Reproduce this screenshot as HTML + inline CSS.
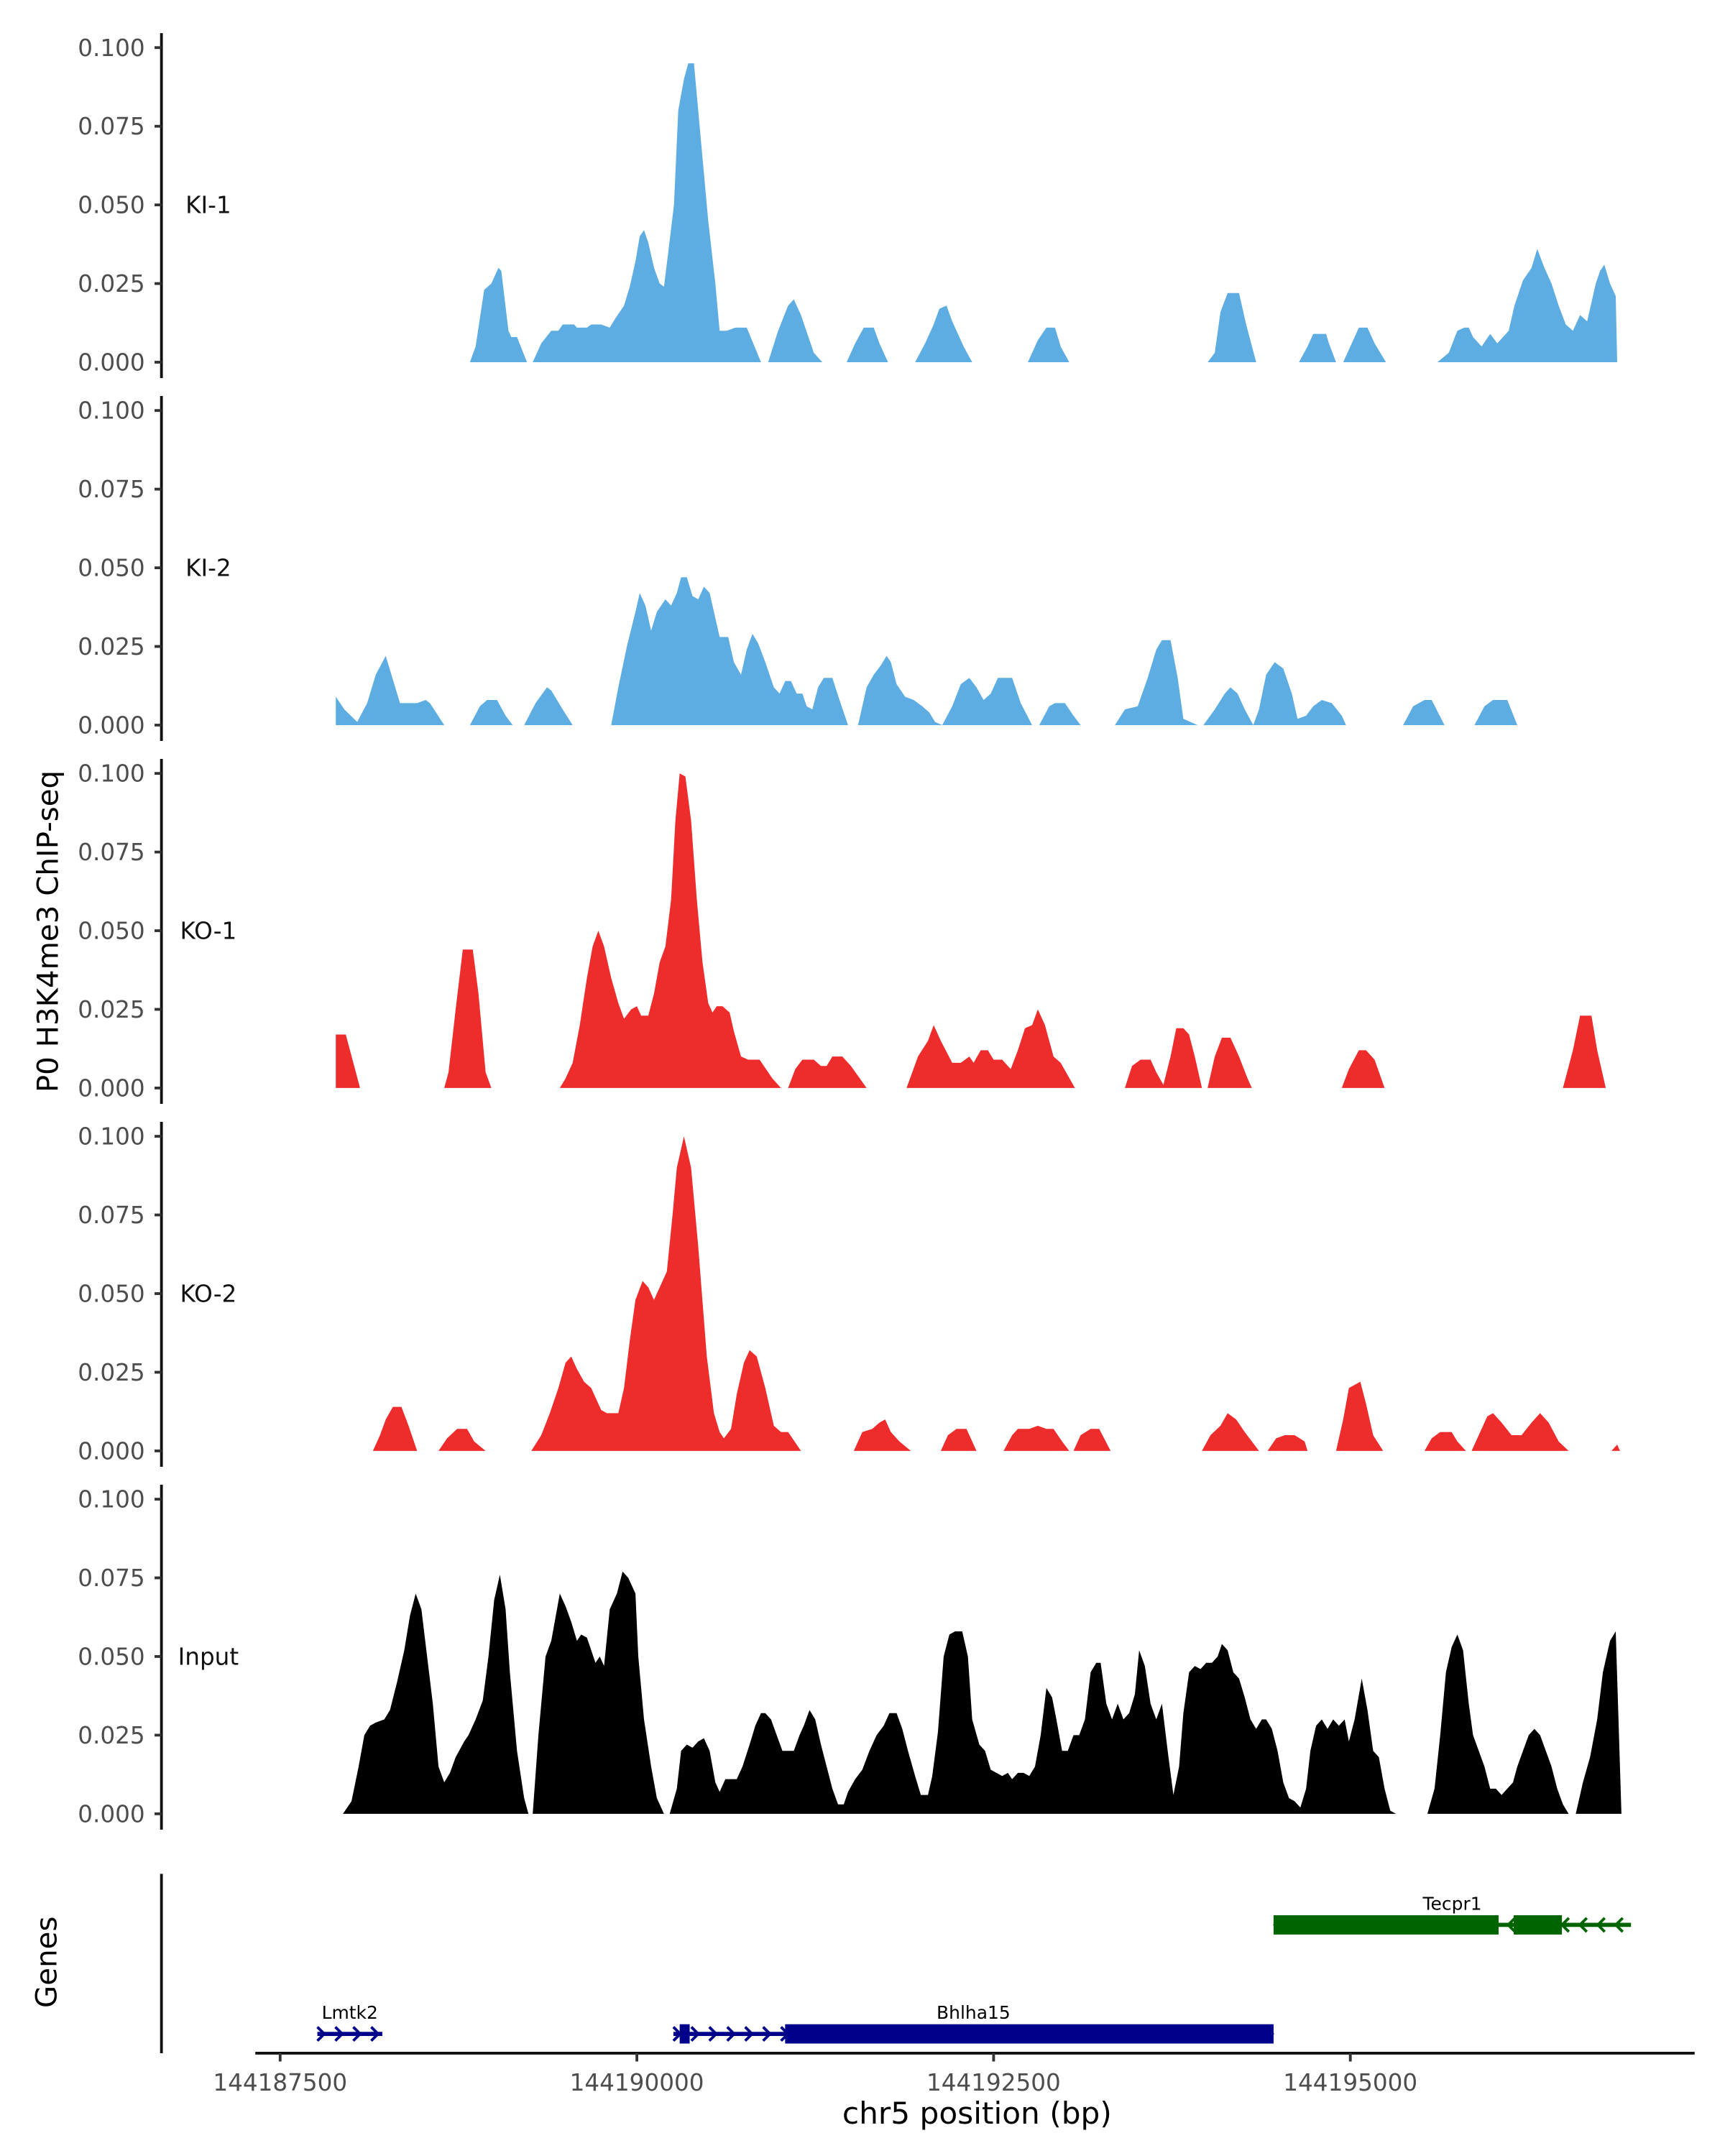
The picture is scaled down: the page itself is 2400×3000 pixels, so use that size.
<!DOCTYPE html>
<html><head><meta charset="utf-8"><style>
html,body{margin:0;padding:0;background:#fff;}
svg{display:block;font-family:"DejaVu Sans","Liberation Sans",sans-serif;}
</style></head><body>
<svg id="chart" width="2400" height="3000" viewBox="0 0 1250 1562.5" xmlns="http://www.w3.org/2000/svg">
<text x="0" y="0" transform="translate(42,675) rotate(-90)" text-anchor="middle" font-size="21" fill="#000">P0 H3K4me3 ChIP-seq</text>
<text x="0" y="0" transform="translate(41,1422) rotate(-90)" text-anchor="middle" font-size="21" fill="#000">Genes</text>
<text x="708" y="1539" text-anchor="middle" font-size="22" fill="#000">chr5 position (bp)</text>
<g id="tracks"></g>
<g id="genes"></g>
<g id="xaxis"></g>
</svg>
<script>
const regionStart = 144187500;
const xTicks = [144187500, 144190000, 144192500, 144195000];
const yTicks = [0, 0.025, 0.05, 0.075, 0.1];
const yTickLabels = ["0.000", "0.025", "0.050", "0.075", "0.100"];
const trackNames = ["KI-1", "KI-2", "KO-1", "KO-2", "Input"];
const trackColors = ["#5dade2", "#5dade2", "#ee2c2c", "#ee2c2c", "#000000"];

const ki1Pos = [1330,1370,1430,1480,1530,1550,1600,1620,1660,1730,null,1770,1830,1900,1950,1980,2060,2080,2150,2180,2250,2310,2350,2410,2450,2490,2520,2550,2580,2620,2660,2690,2720,2760,2790,2830,2860,2900,2950,3000,3050,3080,3130,3190,3270,3370,null,3420,3490,3560,3600,3650,3740,3800,null,3970,4030,4090,4160,4200,4260,null,4450,4520,4580,4620,4670,4710,4790,4850,null,5240,5310,5370,5430,5470,5530,null,6500,6550,6590,6640,6720,6770,6840,null,7140,7200,7240,7330,7350,7400,null,7450,7510,7560,7620,7670,7750,null,8110,8190,8250,8300,8330,8360,8420,8480,8530,8610,8650,8710,8770,8810,8860,8910,8960,9010,9060,9110,9160,9220,9250,9280,9320,9360,9370];
const ki1Val = [0,.005,.023,.025,.03,.029,.01,.008,.008,0,null,0,.006,.01,.01,.012,.012,.011,.011,.012,.012,.011,.014,.018,.024,.032,.04,.042,.038,.03,.025,.024,.035,.05,.08,.09,.095,.095,.07,.045,.025,.01,.01,.011,.011,0,null,0,.01,.018,.02,.015,.003,0,null,0,.006,.011,.011,.006,0,null,0,.006,.012,.017,.018,.013,.005,0,null,0,.007,.011,.011,.005,0,null,0,.003,.016,.022,.022,.012,0,null,0,.005,.009,.009,.006,0,null,0,.006,.011,.011,.006,0,null,0,.003,.01,.011,.011,.008,.005,.009,.006,.01,.018,.026,.03,.036,.03,.025,.018,.012,.01,.015,.013,.025,.029,.031,.025,.021,0];

const ki2Pos = [390,390,450,540,610,670,740,780,840,900,960,1020,1050,1150,null,1330,1400,1450,1520,1580,1630,null,1710,1790,1870,1900,1980,2050,null,2320,2370,2430,2490,2520,2560,2600,2640,2700,2740,2780,2810,2850,2890,2930,2970,3010,3050,3080,3140,3180,3230,3270,3310,3350,3400,3460,3500,3540,3580,3620,3660,3690,3730,3770,3810,3870,3920,3980,null,4050,4110,4160,4210,4250,4280,4320,4380,4440,4500,4550,4590,4640,4710,4770,4830,4880,4930,4980,5030,5130,5190,5270,null,5320,5390,5430,5500,5560,5610,null,5850,5920,6010,6080,6140,6180,6240,6290,6330,6430,null,6470,6550,6620,6660,6710,6760,6820,6860,6910,6970,7030,7090,7130,7190,7240,7300,7370,7440,7470,null,7870,7940,8020,8070,8160,null,8370,8440,8500,8600,8670];
const ki2Val = [0,.009,.005,.001,.007,.016,.022,.016,.007,.007,.007,.008,.007,0,null,0,.006,.008,.008,.003,0,null,0,.007,.012,.011,.005,0,null,0,.012,.025,.036,.042,.038,.03,.036,.04,.038,.042,.047,.047,.041,.04,.044,.042,.034,.028,.028,.02,.016,.024,.029,.026,.02,.012,.01,.014,.014,.01,.01,.006,.005,.012,.015,.015,.008,0,null,0,.012,.016,.019,.022,.02,.013,.009,.008,.006,.004,.001,0,.006,.013,.015,.012,.008,.01,.015,.015,.007,0,null,0,.006,.007,.007,.003,0,null,0,.005,.006,.015,.024,.027,.027,.015,.002,0,null,0,.005,.01,.012,.01,.005,0,.005,.016,.02,.018,.01,.002,.003,.006,.008,.007,.003,0,null,0,.006,.008,.008,0,null,0,.006,.008,.008,0];

const ko1Pos = [390,390,460,560,null,1150,1180,1230,1280,1350,1390,1440,1480,null,1960,2000,2050,2100,2150,2190,2230,2270,2320,2370,2410,2460,2500,2530,2580,2620,2660,2700,2740,2770,2800,2840,2880,2920,2960,3000,3030,3060,3100,3150,3180,3230,3280,3360,3450,3510,null,3560,3610,3660,3740,3790,3830,3870,3940,4000,4110,null,4390,4470,4540,4580,4630,4710,4770,4830,4860,4910,4960,5000,5060,5120,5170,5220,5270,5310,5360,5420,5470,5570,null,5920,5970,6030,6100,6140,6190,6240,6280,6330,6370,6410,6460,null,6500,6550,6600,6660,6720,6780,6810,null,7440,7490,7560,7610,7670,7740,null,8990,9060,9110,9190,9230,9290];
const ko1Val = [0,.017,.017,0,null,0,.005,.025,.044,.044,.03,.005,0,null,0,.003,.008,.02,.035,.045,.05,.045,.035,.027,.022,.025,.026,.023,.023,.03,.04,.045,.06,.085,.1,.099,.085,.06,.04,.027,.024,.026,.026,.024,.018,.01,.009,.009,.003,0,null,0,.006,.009,.009,.007,.007,.01,.01,.007,0,null,0,.01,.015,.02,.015,.008,.008,.01,.008,.012,.012,.009,.009,.006,.012,.019,.02,.025,.02,.01,.008,0,null,0,.007,.009,.009,.005,.001,.01,.019,.019,.017,.01,0,null,0,.01,.016,.016,.01,.003,0,null,0,.006,.012,.012,.009,0,null,0,.012,.023,.023,.012,0];

const ko2Pos = [650,700,740,790,850,900,960,null,1110,1170,1240,1310,1360,1440,null,1760,1830,1890,1950,2000,2040,2080,2130,2180,2210,2250,2290,2370,2410,2450,2490,2540,2580,2620,2670,2710,2750,2780,2830,2880,2930,2990,3040,3080,3110,3160,3200,3250,3290,3340,3370,3400,3460,3510,3560,3650,null,4020,4080,4150,4200,4240,4280,4340,4420,null,4630,4680,4740,4810,4840,4880,null,5070,5130,5170,5250,5310,5370,5420,5480,5530,null,5560,5610,5680,5740,5820,null,6460,6520,6590,6640,6700,6760,6860,null,6920,6980,7040,7110,7180,7200,null,7400,7450,7490,7570,7610,7660,7730,null,8020,8070,8130,8210,8250,8310,null,8350,8400,8460,8500,8560,8630,8700,8770,8830,8890,8960,9030,null,9330,9370,9390];
const ko2Val = [0,.005,.01,.014,.014,.008,0,null,0,.004,.007,.007,.003,0,null,0,.005,.012,.02,.028,.03,.026,.022,.02,.017,.013,.012,.012,.02,.035,.048,.054,.052,.048,.053,.057,.075,.09,.1,.09,.065,.03,.012,.006,.004,.007,.018,.028,.032,.03,.025,.02,.008,.006,.006,0,null,0,.006,.007,.009,.01,.006,.003,0,null,0,.005,.007,.007,.004,0,null,0,.005,.007,.007,.008,.007,.007,.003,0,null,0,.005,.007,.007,0,null,0,.005,.008,.012,.01,.006,0,null,0,.004,.005,.005,.003,0,null,0,.01,.02,.022,.015,.005,0,null,0,.004,.006,.006,.003,0,null,0,.005,.011,.012,.009,.005,.005,.009,.012,.009,.003,0,null,0,.002,0];

const inputPos = [440,500,550,590,630,670,730,770,820,870,910,950,990,1030,1070,1110,1150,1190,1230,1290,1320,1370,1420,1460,1500,1540,1580,1610,1660,1710,1740,null,1770,1810,1860,1900,1960,2000,2040,2080,2110,2150,2180,2210,2240,2270,2310,2360,2400,2440,2490,2510,2550,2600,2640,2690,null,2730,2780,2810,2850,2890,2930,2970,3010,3050,3080,3120,3160,3200,3240,3290,3330,3370,3400,3440,3480,3520,3560,3600,3640,3670,3710,3750,3790,3830,3870,3910,3950,3980,4030,4080,4130,4180,4230,4270,4320,4360,4400,4450,4490,4540,4570,4610,4650,4690,4730,4780,4820,4850,4900,4940,4980,5020,5060,5100,5130,5170,5210,5250,5290,5330,5370,5410,5440,5480,5520,5560,5600,5640,5680,5720,5750,5790,5830,5870,5910,5950,5990,6020,6060,6100,6140,6180,6220,6260,6300,6330,6370,6410,6450,6490,6530,6570,6600,6640,6680,6720,6760,6800,6840,6880,6910,6950,6990,7030,7070,7110,7150,7190,7220,7260,7300,7340,7380,7420,7460,7490,7530,7580,7620,7660,7700,7740,7780,7820,null,8040,8090,8130,8170,8210,8250,8290,8330,8360,8400,8440,8480,8520,8560,8600,8640,8670,8710,8750,8790,8830,8870,8910,8950,8990,9030,null,9080,9130,9180,9230,9270,9320,9360,9400];
const inputVal = [0,.004,.015,.025,.028,.029,.03,.033,.042,.052,.063,.07,.065,.05,.035,.015,.01,.013,.018,.023,.025,.03,.036,.05,.068,.076,.065,.045,.02,.005,0,null,0,.025,.05,.055,.07,.066,.061,.055,.057,.056,.052,.048,.05,.047,.065,.07,.077,.075,.07,.05,.03,.015,.005,0,null,0,.008,.02,.022,.021,.023,.024,.02,.01,.007,.011,.011,.011,.015,.022,.028,.032,.032,.03,.025,.02,.02,.02,.025,.028,.033,.03,.022,.015,.008,.003,.003,.007,.011,.014,.02,.025,.028,.032,.032,.027,.02,.012,.006,.006,.012,.026,.05,.057,.058,.058,.05,.03,.022,.02,.014,.013,.012,.013,.011,.013,.013,.012,.015,.025,.04,.037,.03,.02,.02,.025,.025,.03,.045,.048,.048,.035,.03,.035,.03,.032,.038,.052,.047,.035,.03,.035,.02,.006,.015,.032,.045,.047,.046,.048,.048,.05,.054,.052,.045,.043,.037,.03,.027,.03,.03,.027,.02,.01,.005,.004,.002,.008,.02,.028,.03,.027,.03,.028,.03,.023,.03,.043,.033,.02,.018,.008,.001,0,null,0,.008,.025,.045,.053,.057,.052,.035,.025,.02,.015,.008,.008,.006,.008,.01,.015,.02,.025,.027,.025,.02,.015,.008,.003,0,null,0,.01,.018,.03,.045,.055,.058,0];

const trackPos = [ki1Pos, ki2Pos, ko1Pos, ko2Pos, inputPos];
const trackVal = [ki1Val, ki2Val, ko1Val, ko2Val, inputVal];

const geneNames = ["Lmtk2", "Bhlha15", "Tecpr1"];
const geneStart = [144187761, 144190256, 144194462];
const geneEnd = [144188216, 144194462, 144196967];
const geneStrand = ["+", "+", "-"];
const geneRow = [1, 1, 0];
const exonGene = [1, 1, 2, 2];
const exonStart = [144190300, 144191039, 144194462, 144196145];
const exonEnd = [144190370, 144194462, 144196039, 144196483];

const NS = "http://www.w3.org/2000/svg";
const X0 = 203, PXBP = 258.5 / 2500;
function xs(bp) { return X0 + (bp - regionStart) * PXBP; }
function panelZero(i) { return 262.5 + 263 * i; }
function ys(i, v) { return panelZero(i) - v * 2280; }
function mk(tag, attrs, parent) {
  const e = document.createElementNS(NS, tag);
  for (const k in attrs) e.setAttribute(k, attrs[k]);
  parent.appendChild(e);
  return e;
}
const tracksG = document.getElementById('tracks');
for (let i = 0; i < trackNames.length; i++) {
  const g = mk('g', {}, tracksG);
  
  
  const ax = mk('line', {x1: 117, x2: 117, y1: 24 + 263 * i, y2: 274 + 263 * i, stroke: '#111', 'stroke-width': 2}, g);
  
  
  for (let t = 0; t < yTicks.length; t++) {
    const y = ys(i, yTicks[t]);
    const tk = mk('line', {x1: 112, x2: 117, y1: y, y2: y, stroke: '#333', 'stroke-width': 2}, g);
    
    
    const tl = mk('text', {x: 105, y: y + 6, 'text-anchor': 'end', 'font-size': 17, fill: '#4d4d4d'}, g);
    
    
    tl.textContent = yTickLabels[t];
  }
  const nm = mk('text', {x: 151, y: ys(i, 0.05) + 6, 'text-anchor': 'middle', 'font-size': 17, fill: '#111'}, g);
  
  
  nm.textContent = trackNames[i];
  // areas
  const pos = trackPos[i], val = trackVal[i];
  let seg = [];
  const flush = () => {
    if (seg.length < 2) { seg = []; return; }
    let d = 'M' + xs(seg[0][0]).toFixed(2) + ',' + panelZero(i);
    for (const p of seg) d += 'L' + xs(p[0]).toFixed(2) + ',' + ys(i, p[1]).toFixed(2);
    d += 'L' + xs(seg[seg.length - 1][0]).toFixed(2) + ',' + panelZero(i) + 'Z';
    const a = mk('path', {d: d, fill: trackColors[i]}, g);
    
    
    seg = [];
  };
  for (let k = 0; k < pos.length; k++) {
    if (pos[k] === null) { flush(); continue; }
    seg.push([regionStart + pos[k], val[k]]);
  }
  flush();
}
// genes panel
const genesG = document.getElementById('genes');
const gax = mk('line', {x1: 117, x2: 117, y1: 1358, y2: 1488, stroke: '#111', 'stroke-width': 2}, genesG);


const rowY = [1395, 1474];
const geneColors = ['#00008b', '#00008b', '#006400'];
for (let j = 0; j < geneNames.length; j++) {
  const g = mk('g', {}, genesG);
  
  
  const y = rowY[geneRow[j]], c = geneColors[j];
  const x1 = xs(geneStart[j]), x2 = xs(geneEnd[j]);
  mk('line', {x1: x1, x2: x2, y1: y, y2: y, stroke: c, 'stroke-width': 3}, g);
  const dir = geneStrand[j] === '+' ? 1 : -1;
  for (let ax = x1 + 3; ax < x2 - 2; ax += 13) {
    mk('path', {d: `M${ax - 3 * dir},${y - 5}L${ax + 2 * dir},${y}L${ax - 3 * dir},${y + 5}`, stroke: c, 'stroke-width': 2, fill: 'none'}, g);
  }
  for (let e = 0; e < exonGene.length; e++) {
    if (exonGene[e] !== j) continue;
    const ex = mk('rect', {x: xs(exonStart[e]), y: y - 7, width: xs(exonEnd[e]) - xs(exonStart[e]), height: 14, fill: c}, g);
    
    
  }
  const lb = mk('text', {x: (x1 + x2) / 2, y: y - 11, 'text-anchor': 'middle', 'font-size': 13, fill: '#000'}, g);
  
  
  lb.textContent = geneNames[j];
}
// x axis
const xg = document.getElementById('xaxis');
const xl = mk('line', {x1: 185, x2: 1228, y1: 1488, y2: 1488, stroke: '#111', 'stroke-width': 2}, xg);


for (const t of xTicks) {
  const x = xs(t);
  const tk = mk('line', {x1: x, x2: x, y1: 1488, y2: 1494, stroke: '#333', 'stroke-width': 2}, xg);
  
  
  const tl = mk('text', {x: x, y: 1515, 'text-anchor': 'middle', 'font-size': 17, fill: '#4d4d4d'}, xg);
  
  
  tl.textContent = String(t);
}
</script>
</body></html>
